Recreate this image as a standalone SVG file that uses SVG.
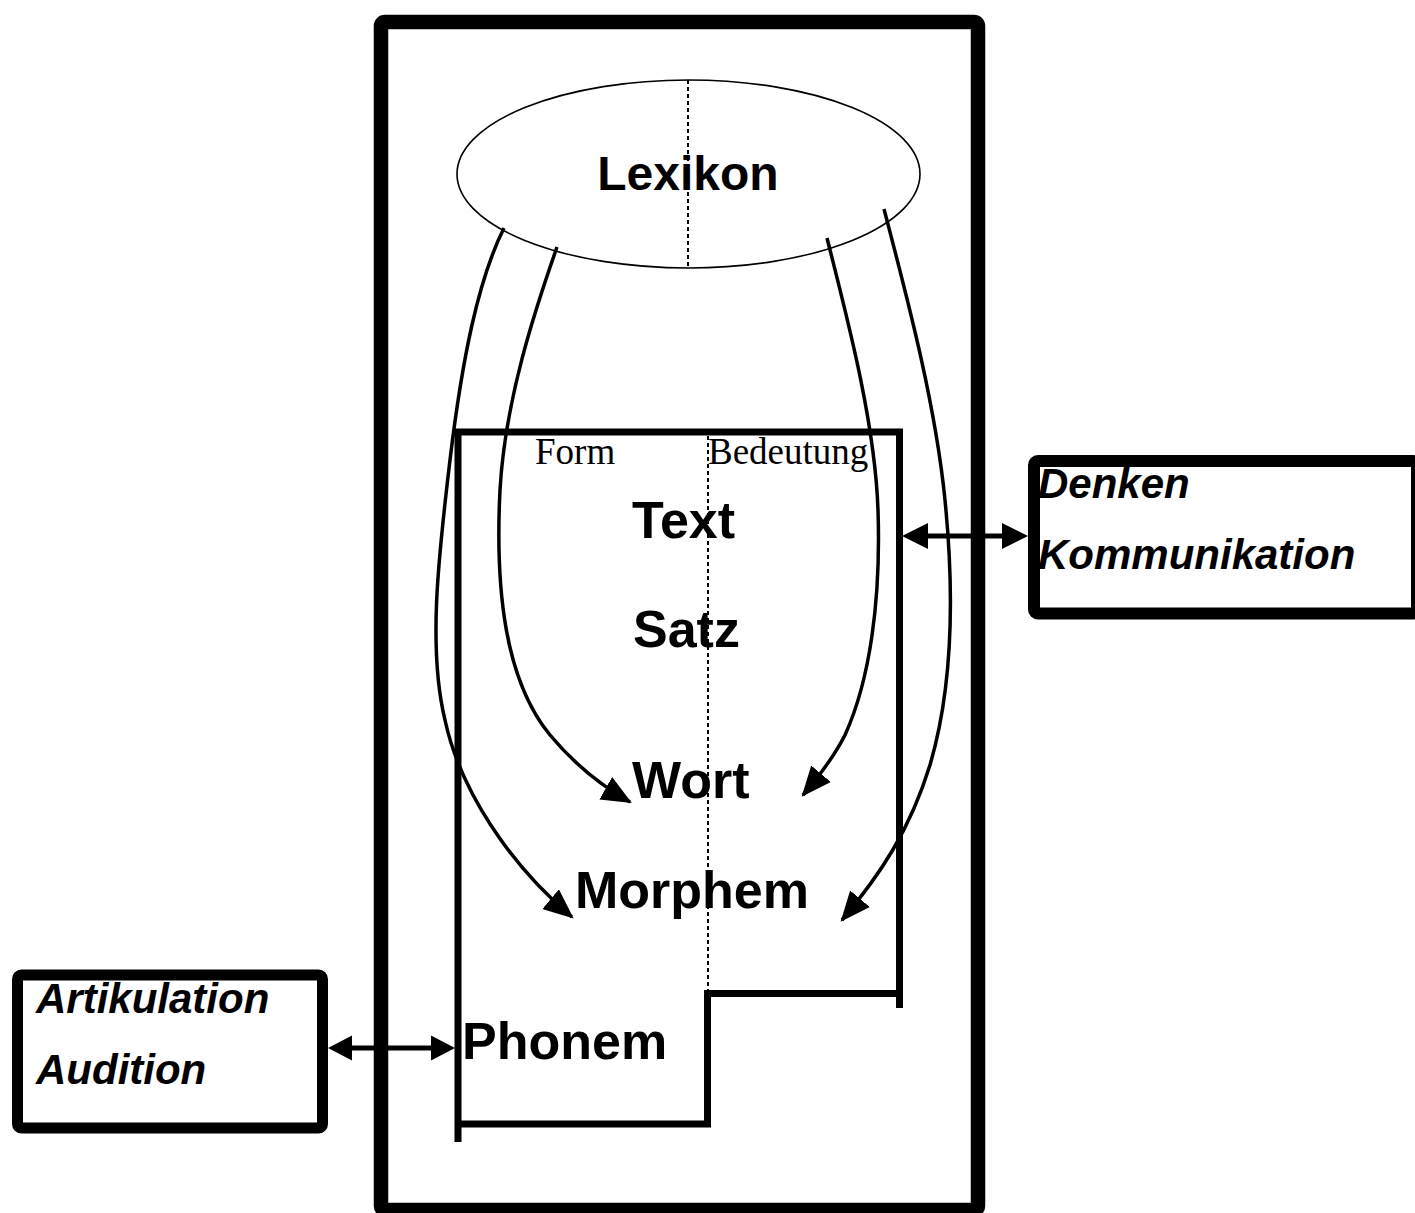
<svg xmlns="http://www.w3.org/2000/svg" width="1415" height="1213" viewBox="0 0 1415 1213">
  <style>
    .lbl { font-family: "Liberation Sans", Arial, sans-serif; font-weight: bold; font-size: 52px; fill: #000; }
    .lex { font-family: "Liberation Sans", Arial, sans-serif; font-weight: bold; font-size: 48px; fill: #000; }
    .ext { font-family: "Liberation Sans", Arial, sans-serif; font-weight: bold; font-style: italic; font-size: 42px; fill: #000; }
    .col { font-family: "Liberation Serif", "Times New Roman", serif; font-size: 37px; fill: #000; }
    .box { fill: none; stroke: #000; }
    .dots { fill: none; stroke: #000; stroke-width: 2; stroke-dasharray: 4 3; }
    .curve { fill: none; stroke: #000; stroke-width: 3.5; marker-end: url(#head); }
    .shaft { fill: none; stroke: #000; stroke-width: 5; }
    .tip { fill: #000; }
  </style>
  <defs>
    <marker id="head" markerUnits="userSpaceOnUse" markerWidth="30" markerHeight="26" viewBox="0 0 28 24" refX="26" refY="12" orient="auto">
      <path d="M0,0 L28,12 L0,24 z" fill="#000"/>
    </marker>
  </defs>

  <rect width="1415" height="1213" fill="#fff"/>

  <!-- outer frame of the language system -->
  <g id="frame">
    <rect class="box" x="381" y="22" width="597" height="1188" rx="4" stroke-width="14.5"/>
  </g>

  <!-- lexicon -->
  <g id="lexikon">
    <ellipse class="box" cx="688.5" cy="174" rx="231.5" ry="94" stroke-width="1.6"/>
    <line class="dots" x1="688" y1="80" x2="688" y2="268"/>
    <text class="lex" x="688" y="190" text-anchor="middle">Lexikon</text>
  </g>

  <!-- stepped box of levels -->
  <g id="ebenen">
    <path class="box" stroke-width="7" d="M458,1142 V432 H899.5 V1008"/>
    <path class="box" stroke-width="7" d="M899.5,993.5 H707.5 V1124 H458"/>
    <line class="dots" x1="708" y1="436" x2="708" y2="990"/>
    <text class="col" x="535" y="464">Form</text>
    <text class="col" x="708" y="464">Bedeutung</text>
    <text class="lbl" x="632" y="538">Text</text>
    <text class="lbl" x="633" y="647">Satz</text>
    <text class="lbl" x="632" y="798">Wort</text>
    <text class="lbl" x="575" y="908">Morphem</text>
    <text class="lbl" x="462" y="1059">Phonem</text>
  </g>

  <!-- thinking / communication -->
  <g id="denken">
    <rect class="box" x="1034" y="461" width="383" height="152.5" rx="4" stroke-width="12"/>
    <text class="ext" x="1038" y="498">Denken</text>
    <text class="ext" x="1038" y="569">Kommunikation</text>
  </g>

  <!-- articulation / audition -->
  <g id="artikulation">
    <rect class="box" x="17.5" y="975" width="305" height="153" rx="4" stroke-width="11"/>
    <text class="ext" x="36" y="1013">Artikulation</text>
    <text class="ext" x="36" y="1084">Audition</text>
  </g>

  <g id="connectors">
    <!-- lexicon to morpheme, form side -->
    <path class="curve" d="M504,228 C478,280 462,360 450,460 C438,560 428,650 445,720 C460,790 510,865 572,917"/>
    <!-- lexicon to word, form side -->
    <path class="curve" d="M557,247 C535,310 505,400 500,490 C495,590 505,680 550,735 C575,765 600,785 630,802"/>
    <!-- lexicon to word, meaning side -->
    <path class="curve" d="M827,238 C845,310 875,420 878,510 C881,600 870,680 845,735 C835,755 820,775 803,795"/>
    <!-- lexicon to morpheme, meaning side -->
    <path class="curve" d="M884,209 C905,290 935,400 945,500 C955,600 952,690 930,765 C910,830 880,875 842,920"/>

    <!-- levels <-> Denken -->
    <line class="shaft" x1="926" y1="536" x2="1004" y2="536"/>
    <polygon class="tip" points="902,536 928,523 928,549"/>
    <polygon class="tip" points="1028,536 1002,523 1002,549"/>

    <!-- Artikulation <-> levels -->
    <line class="shaft" x1="350" y1="1048" x2="433" y2="1048"/>
    <polygon class="tip" points="328,1048 352,1035.5 352,1060.5"/>
    <polygon class="tip" points="455,1048 431,1035.5 431,1060.5"/>
  </g>
</svg>
